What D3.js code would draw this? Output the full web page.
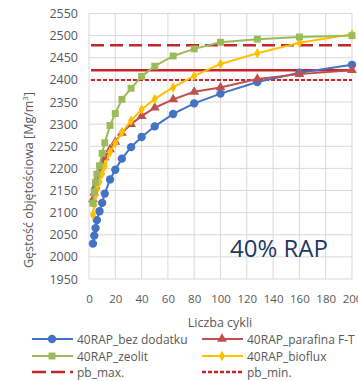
<!DOCTYPE html>
<html>
<head>
<meta charset="utf-8">
<script src="https://cdn.jsdelivr.net/npm/d3@7"></script>
<style>
  html, body { margin: 0; padding: 0; background: #fff; }
  svg { display: block; font-family: "Open Sans", "DejaVu Sans", sans-serif; }
</style>
</head>
<body>
<svg id="chart" width="358" height="381"></svg>
<script>
// Gyratory compaction: bulk density vs. number of cycles, mixes with 40% RAP
const cycles = [3, 4, 5, 6, 8, 10, 12, 16, 20, 25, 32, 40, 50, 64, 80, 100, 128, 160, 200];
const bezDodatku = [2030, 2048, 2065, 2083, 2103, 2122, 2143, 2175, 2197, 2222, 2248, 2271, 2295, 2323, 2347, 2369, 2395, 2416, 2434];
const parafina   = [2130, 2145, 2160, 2175, 2195, 2210, 2225, 2243, 2260, 2280, 2300, 2318, 2337, 2356, 2373, 2383, 2402, 2413, 2422];
const zeolit     = [2121, 2147, 2169, 2187, 2206, 2234, 2258, 2297, 2324, 2356, 2381, 2408, 2431, 2454, 2470, 2485, 2492, 2497, 2500];
const bioflux    = [2095, 2117, 2139, 2152, 2170, 2188, 2205, 2237, 2257, 2281, 2308, 2333, 2357, 2383, 2409, 2436, 2460, 2484, 2503];
const pbMax = 2478;
const pbMin = 2400;
const pbLine = 2422;
const xTicks = [0, 20, 40, 60, 80, 100, 120, 140, 160, 180, 200];
const yTicks = [1950, 2000, 2050, 2100, 2150, 2200, 2250, 2300, 2350, 2400, 2450, 2500, 2550];
const seriesNames = ["40RAP_bez dodatku", "40RAP_parafina F-T", "40RAP_zeolit", "40RAP_bioflux", "pb_max.", "pb_min."];

const svg = d3.select("#chart");
const m = { left: 89, right: 352, top: 13.5, bottom: 279 };

const x = d3.scaleLinear().domain([0, 200]).range([m.left, m.right]);
const y = d3.scaleLinear().domain([1950, 2550]).range([m.bottom, m.top]);

const grid = "#d9d9d9";
const textGray = "#595959";
const pbColor = "#c4262b";

// grid
svg.append("g").selectAll("line").data(yTicks).join("line")
  .attr("x1", m.left).attr("x2", m.right)
  .attr("y1", d => y(d)).attr("y2", d => y(d))
  .attr("stroke", grid).attr("stroke-width", 1);
svg.append("g").selectAll("line").data(xTicks).join("line")
  .attr("x1", d => x(d)).attr("x2", d => x(d))
  .attr("y1", m.top).attr("y2", m.bottom)
  .attr("stroke", grid).attr("stroke-width", 1);

// axes (labels only; grid draws the rules)
const yAxis = d3.axisLeft(y).tickValues(yTicks).tickSize(0).tickPadding(11).tickFormat(d3.format("d"));
svg.append("g").attr("transform", `translate(${m.left},0)`).call(yAxis)
  .call(g => g.select(".domain").remove())
  .call(g => g.selectAll("text").attr("fill", textGray).style("font-size", "12.5px").attr("font-family", "Open Sans"));
const xAxis = d3.axisBottom(x).tickValues(xTicks).tickSize(0).tickPadding(16).tickFormat(d3.format("d"));
svg.append("g").attr("transform", `translate(0,${m.bottom})`).call(xAxis)
  .call(g => g.select(".domain").remove())
  .call(g => g.selectAll("text").attr("fill", textGray).style("font-size", "11.5px").attr("font-family", "Open Sans"));

// axis titles
svg.append("text").attr("transform", "translate(33,180) rotate(-90)")
  .attr("text-anchor", "middle").attr("fill", textGray).style("font-size", "12.5px")
  .text("Gęstość objętościowa [Mg/m")
  .append("tspan").attr("dy", -5).style("font-size", "8px").text("3")
  .select(function () { return this.parentNode; })
  .append("tspan").attr("dy", 5).text("]");
svg.append("text").attr("x", 220).attr("y", 327).attr("text-anchor", "middle")
  .attr("fill", textGray).style("font-size", "12.5px").text("Liczba cykli");

// reference lines
const refs = [
  { v: pbMax, dash: "13,6", w: 2.5 },
  { v: pbLine, dash: null, w: 2.5 },
  { v: pbMin, dash: "4,2", w: 2 }
];
svg.append("g").selectAll("line").data(refs).join("line")
  .attr("x1", x(0) + 2).attr("x2", x(200))
  .attr("y1", d => y(d.v)).attr("y2", d => y(d.v))
  .attr("stroke", pbColor).attr("stroke-width", d => d.w)
  .attr("stroke-dasharray", d => d.dash);

// data series
const series = [
  { vals: bezDodatku, color: "#4472c4", marker: "circle" },
  { vals: parafina, color: "#c0504d", marker: "triangle" },
  { vals: zeolit, color: "#9bbb59", marker: "square" },
  { vals: bioflux, color: "#ffc000", marker: "diamond" }
];
const symbolOf = { circle: d3.symbolCircle, triangle: d3.symbolTriangle, square: d3.symbolSquare, diamond: d3.symbolDiamond };
const sizeOf = { circle: 55, triangle: 42, square: 48, diamond: 32 };
const line = d3.line().x(d => x(d[0])).y(d => y(d[1]));

// draw order matches overlap: blue, red, yellow, green on top
const order = [0, 1, 3, 2];
order.forEach(i => {
  const s = series[i];
  const pts = cycles.map((c, k) => [c, s.vals[k]]);
  const g = svg.append("g");
  g.append("path").datum(pts).attr("d", line).attr("fill", "none")
    .attr("stroke", s.color).attr("stroke-width", 2);
  g.selectAll("path.pt").data(pts).join("path").attr("class", "pt")
    .attr("transform", d => `translate(${x(d[0])},${y(d[1])})`)
    .attr("d", d3.symbol().type(symbolOf[s.marker]).size(sizeOf[s.marker]))
    .attr("fill", s.color);
});

// annotation
svg.append("text").attr("x", 230).attr("y", 257).attr("fill", "#1f3864")
  .style("font-size", "24px").text("40% RAP");

// legend
const legend = [
  { name: seriesNames[0], color: "#4472c4", marker: "circle", col: 0, row: 0 },
  { name: seriesNames[1], color: "#c0504d", marker: "triangle", col: 1, row: 0 },
  { name: seriesNames[2], color: "#9bbb59", marker: "square", col: 0, row: 1 },
  { name: seriesNames[3], color: "#ffc000", marker: "diamond", col: 1, row: 1 },
  { name: seriesNames[4], color: pbColor, dash: "14,5", col: 0, row: 2 },
  { name: seriesNames[5], color: pbColor, dash: "4,2", col: 1, row: 2 }
];
const colX = [32, 202], rowY = [339, 356, 372];
legend.forEach(d => {
  const x0 = colX[d.col], yy = rowY[d.row];
  const g = svg.append("g");
  g.append("line").attr("x1", x0).attr("x2", x0 + 41).attr("y1", yy).attr("y2", yy)
    .attr("stroke", d.color).attr("stroke-width", d.dash ? 2.5 : 2)
    .attr("stroke-dasharray", d.dash || null);
  if (d.marker) {
    g.append("path").attr("transform", `translate(${x0 + 20},${yy})`)
      .attr("d", d3.symbol().type(symbolOf[d.marker]).size(sizeOf[d.marker]))
      .attr("fill", d.color);
  }
  g.append("text").attr("x", x0 + 45).attr("y", yy + 4.5)
    .attr("fill", textGray).style("font-size", "12px").text(d.name);
});
</script>
</body>
</html>
